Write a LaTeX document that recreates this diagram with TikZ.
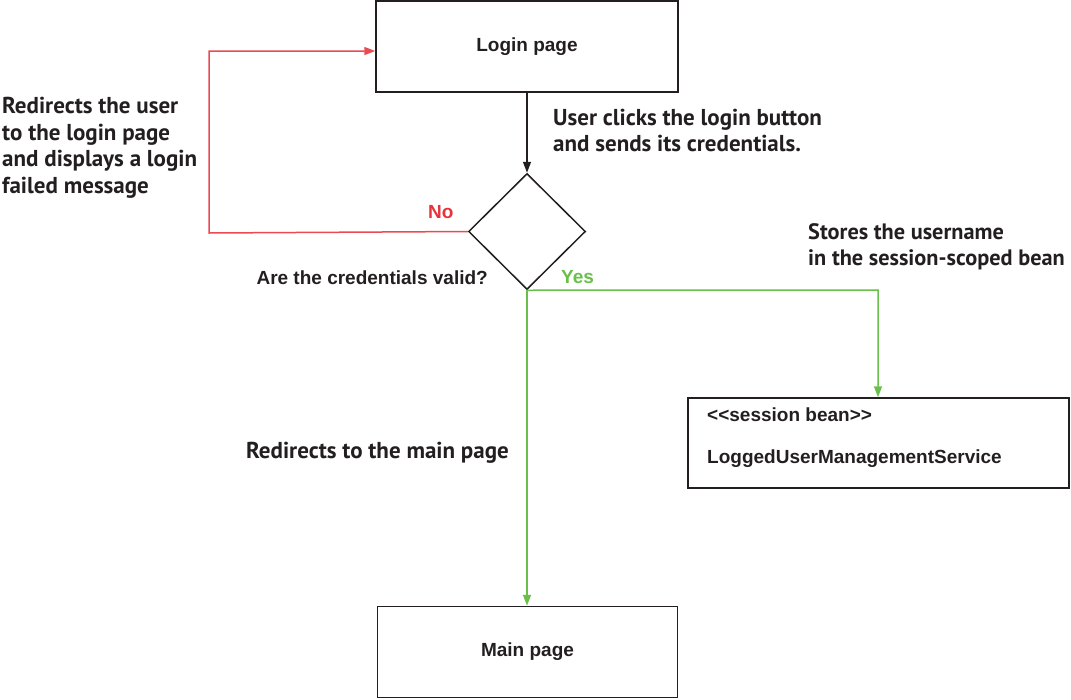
\documentclass[tikz,border=0pt]{standalone}
\usepackage{fontspec}
\setmainfont{Liberation Sans}
\newfontfamily\notefont{PT Sans}
\usetikzlibrary{arrows.meta,shapes.geometric}
\definecolor{ink}{HTML}{231F20}
\definecolor{nored}{HTML}{E8323C}
\definecolor{noline}{HTML}{EA4A52}
\definecolor{yesgreen}{HTML}{6ABF4B}
\begin{document}
\begin{tikzpicture}[x=1pt,y=-1pt,
  page/.style={draw=ink, line width=1.5pt, rectangle, inner sep=0pt,
    minimum width=302pt, minimum height=91pt,
    font=\fontsize{19}{22}\selectfont\bfseries, text=ink},
  decision/.style={draw=ink, line width=1.5pt, diamond, inner sep=0pt,
    minimum width=117pt, minimum height=116pt},
  label/.style={inner sep=0pt, anchor=base west,
    font=\fontsize{19}{22}\selectfont\bfseries},
  note/.style={inner sep=0pt, anchor=base west, align=left, text=ink,
    font=\notefont\fontsize{23}{26.5}\selectfont\bfseries},
  tip/.style={-{Triangle[length=11pt,width=8pt]}},
  flow/.style={line width=1.5pt, tip},
]
\useasboundingbox (0,0) rectangle (1071,699);

% boxes and the decision
\node[page] (login) at (527,46.5) {Login page};
\node[decision] (check) at (527,231.5) {};
\node[page, minimum width=300pt] (main) at (527.5,652) {Main page};
\node[draw=ink, line width=1.5pt, rectangle, inner sep=0pt,
  minimum width=381pt, minimum height=90pt] (bean) at (878.5,443) {};
% the kerns keep the angle brackets from merging into guillemets
\node[label, text=ink] (stereo) at (707,421) {<\kern0pt<session bean>\kern0pt>};
\node[label, text=ink] (beanname) at (707,463) {LoggedUserManagementService};

% connectors
\draw[flow, draw=ink] (login.south) -- (check.north);
\coordinate (nobend1) at (209,233);
\coordinate (nobend2) at (209,51);
\draw[flow, draw=noline] (check.west) -- (nobend1) -- (nobend2) -- (login.west |- nobend2);
\coordinate (yesbend) at (878,290);
\draw[flow, draw=yesgreen] (check.south) -- (yesbend) -- (bean.north -| yesbend);
\draw[flow, draw=yesgreen] (check.south) -- (main.north -| check.south);

% branch labels
\node[label, text=nored] (nolabel) at (428,218) {No};
\node[label, text=yesgreen] (yeslabel) at (561,283) {Yes};
\node[label, text=ink, anchor=base east] (question) at (488,284) {Are the credentials valid?};

% notes (placed by the baseline of their last line)
\node[note] (noteleft) at (2,193) {Redirects the user\\to the login page\\and displays a login\\failed message};
\node[note] (noteclick) at (553,151.5) {User clicks the login button\\and sends its credentials.};
\node[note, font=\notefont\fontsize{22.3}{26.5}\selectfont\bfseries] (notestore) at (808,265.5) {Stores the username\\in the session-scoped bean};
\node[note] (notemain) at (246,458) {Redirects to the main page};
\end{tikzpicture}
\end{document}
